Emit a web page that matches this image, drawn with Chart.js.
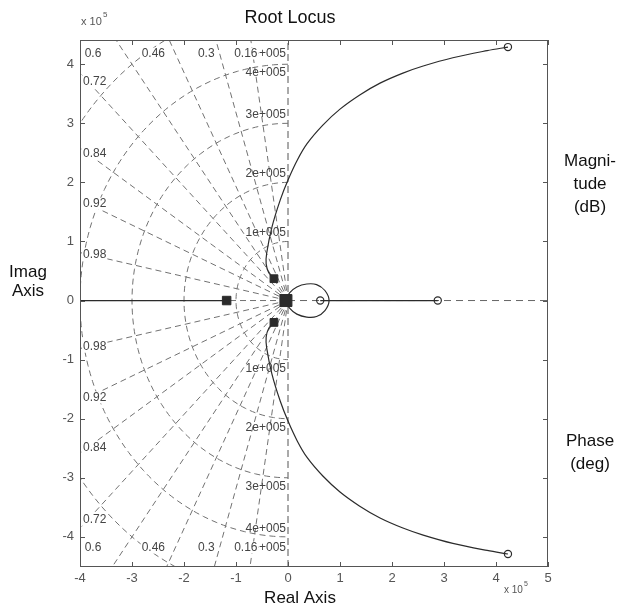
<!DOCTYPE html>
<html><head><meta charset="utf-8">
<script src="https://cdn.jsdelivr.net/npm/chart.js@4/dist/chart.umd.min.js"></script>
<style>html,body{margin:0;padding:0;background:#fff;}#wrap{width:628px;height:611px;position:relative;}</style>
</head><body><div id="wrap"><canvas id="c" width="628" height="611"></canvas></div>
<script>
// ---- data (units of 1e5) ----
const xTicks = [-4,-3,-2,-1,0,1,2,3,4,5];
const yTicks = [-4,-3,-2,-1,0,1,2,3,4];
const xRange = [-4, 5];
const yRange = [-4.51, 4.41];
const zetaValues = [0.16,0.3,0.46,0.6,0.72,0.84,0.92,0.98];
const zetaLabels = ['0.16','0.3','0.46','0.6','0.72','0.84','0.92','0.98'];
const wnValues = [1,2,3,4,5];
const wnLabels = ['1e+005','2e+005','3e+005','4e+005','5e+005'];
const poleX = [-1.18,-0.27,-0.27,-0.04];
const poleY = [0,0.37,-0.37,0];
const zeroX = [0.62,2.88,4.23,4.23];
const zeroY = [0,0,4.29,-4.29];
const upperX = [-0.27,-0.37,-0.42,-0.41,-0.31,-0.15,0.0,0.18,0.37,0.67,1.0,1.38,1.77,2.21,2.6,3.17,3.83,4.23];
const upperY = [0.37,0.47,0.62,0.8,1.24,1.7,2.04,2.38,2.66,2.97,3.24,3.48,3.68,3.85,3.97,4.11,4.23,4.29];
const lowerX = [-0.27,-0.37,-0.42,-0.41,-0.31,-0.15,0.0,0.18,0.37,0.67,1.0,1.38,1.77,2.21,2.6,3.17,3.83,4.23];
const lowerY = [-0.37,-0.47,-0.62,-0.8,-1.24,-1.7,-2.04,-2.38,-2.66,-2.97,-3.24,-3.48,-3.68,-3.85,-3.97,-4.11,-4.23,-4.29];
const loopX = [-0.04,0.03,0.17,0.36,0.55,0.71,0.79,0.71,0.55,0.36,0.17,0.03,-0.04];
const loopY = [0,0.13,0.23,0.28,0.27,0.17,0,-0.17,-0.27,-0.28,-0.23,-0.13,0];
const realBranchLeftX = [-4,-1.18];
const realBranchRightX = [0.62,2.88];

// ---- build datasets ----
const GRID = '#727272', INK = '#2b2b2b';
const pts = (xs, ys) => xs.map((x,i)=>({x, y: ys[i]}));
const datasets = [];
const gridStyle = {showLine:true, pointRadius:0, borderColor:GRID, borderWidth:1, borderDash:[6,4], tension:0, order:5};
zetaValues.forEach(z => {
  const s = Math.sqrt(1-z*z), R = 9;
  datasets.push({...gridStyle, data:[{x:0,y:0},{x:-z*R,y:s*R}]});
  datasets.push({...gridStyle, data:[{x:0,y:0},{x:-z*R,y:-s*R}]});
});
wnValues.forEach(w => {
  const d = [];
  for (let a = 90; a <= 270; a += 2) { const t = a*Math.PI/180; d.push({x:w*Math.cos(t), y:w*Math.sin(t)}); }
  datasets.push({...gridStyle, data:d});
});
datasets.push({...gridStyle, borderColor:'#555', borderDash:[7,4], data:[{x:0,y:yRange[0]},{x:0,y:yRange[1]}]});
datasets.push({...gridStyle, data:[{x:xRange[0],y:0},{x:0,y:0}]});
datasets.push({...gridStyle, borderColor:'#666', borderDash:[7,5], data:[{x:0,y:0},{x:xRange[1],y:0}]});

const lineStyle = {showLine:true, pointRadius:0, borderColor:INK, borderWidth:1.2, order:2};
datasets.push({...lineStyle, tension:0.35, data:pts(upperX, upperY)});
datasets.push({...lineStyle, tension:0.35, data:pts(lowerX, lowerY)});
datasets.push({...lineStyle, tension:0.4, data:pts(loopX, loopY)});
datasets.push({...lineStyle, tension:0, data:pts(realBranchLeftX,[0,0])});
datasets.push({...lineStyle, tension:0, data:pts(realBranchRightX,[0,0])});

datasets.push({showLine:false, data:pts(poleX,poleY), pointStyle:'rect', pointRadius:[6,5.5,5.5,8.5],
  backgroundColor:INK, borderColor:INK, borderWidth:1, order:0});
datasets.push({showLine:false, data:pts(zeroX,zeroY), pointStyle:'circle', pointRadius:3.6,
  backgroundColor:'rgba(255,255,255,0)', borderColor:INK, borderWidth:1.2, order:0});

const FONT = '"Liberation Sans", Arial, sans-serif';

const decor = {
  id:'decor',
  afterDatasetsDraw(chart){
    const ctx = chart.ctx, xs = chart.scales.x, ys = chart.scales.y, a = chart.chartArea;
    ctx.save();
    // natural-frequency labels
    ctx.font = '12px ' + FONT; ctx.fillStyle = '#444'; ctx.textAlign = 'right'; ctx.textBaseline = 'middle';
    const rowY = yRange[1] - 0.23;
    const x0 = xs.getPixelForValue(0) - 2;
    const gap = 19;
    let prevU = -1e9, prevL = 1e9;
    for (let i = wnValues.length-1; i >= 0; i--) {
      const w = wnValues[i];
      let cu = Math.max(ys.getPixelForValue(w) - 9, ys.getPixelForValue(rowY), prevU + gap);
      let cl = Math.min(ys.getPixelForValue(-w) + 9, ys.getPixelForValue(-rowY), prevL - gap);
      prevU = cu; prevL = cl;
      ctx.fillText(wnLabels[i], x0, cu);
      ctx.fillText(wnLabels[i], x0, cl);
    }
    // damping labels
    zetaValues.forEach((z,i) => {
      const s = Math.sqrt(1-z*z);
      const xl = xRange[0] + 0.15;
      const yl = -xl * s / z;
      const txt = zetaLabels[i];
      const tw = ctx.measureText(txt).width;
      let cx, cyU, cyL;
      if (yl <= rowY) {
        cx = a.left + 3 + tw/2; cyU = ys.getPixelForValue(yl); cyL = ys.getPixelForValue(-yl);
      } else {
        cx = xs.getPixelForValue(-z/s*wnValues[wnValues.length-1]);
        cyU = ys.getPixelForValue(rowY); cyL = ys.getPixelForValue(-rowY);
      }
      [cyU, cyL].forEach(cy => {
        ctx.fillStyle = '#fff'; ctx.fillRect(cx - tw/2 - 1, cy - 6, tw + 2, 12);
        ctx.fillStyle = '#444'; ctx.textAlign = 'center'; ctx.fillText(txt, cx, cy);
      });
    });
    // frame and inward ticks
    ctx.strokeStyle = '#555'; ctx.lineWidth = 1;
    ctx.strokeRect(Math.round(a.left)+0.5, Math.round(a.top)+0.5, Math.round(a.right-a.left)-1, Math.round(a.bottom-a.top)-1);
    ctx.beginPath();
    yTicks.forEach(v => { const p = Math.round(ys.getPixelForValue(v))+0.5;
      ctx.moveTo(a.left, p); ctx.lineTo(a.left+5, p); ctx.moveTo(a.right, p); ctx.lineTo(a.right-5, p); });
    xTicks.forEach(v => { const p = Math.round(xs.getPixelForValue(v))+0.5;
      ctx.moveTo(p, a.top); ctx.lineTo(p, a.top+5); ctx.moveTo(p, a.bottom); ctx.lineTo(p, a.bottom-5); });
    ctx.stroke();
    // texts
    ctx.fillStyle = '#111'; ctx.textAlign = 'center'; ctx.textBaseline = 'middle';
    ctx.font = '18px ' + FONT;
    ctx.fillText('Root Locus', 290, 18);
    ctx.font = '17px ' + FONT;
    ctx.fillText('Real Axis', 300, 598);
    ctx.fillText('Imag', 28, 272); ctx.fillText('Axis', 28, 291);
    ctx.fillText('Magni-', 590, 161); ctx.fillText('tude', 590, 184); ctx.fillText('(dB)', 590, 207);
    ctx.fillText('Phase', 590, 441); ctx.fillText('(deg)', 590, 464);
    // exponent labels
    ctx.fillStyle = '#555'; ctx.textAlign = 'left'; ctx.textBaseline = 'alphabetic';
    ctx.font = '11px ' + FONT; ctx.fillText('x 10', 81, 25);
    ctx.font = '8px ' + FONT; ctx.fillText('5', 103, 17);
    ctx.font = '10px ' + FONT; ctx.fillText('x 10', 504, 593);
    ctx.font = '7px ' + FONT; ctx.fillText('5', 524, 586);
    ctx.restore();
  }
};

new Chart(document.getElementById('c'), {
  type:'scatter',
  data:{datasets},
  options:{
    responsive:false, animation:false, devicePixelRatio:1,
    layout:{padding:{left:0, right:80, top:40, bottom:0}},
    plugins:{legend:{display:false}, tooltip:{enabled:false}, title:{display:false}},
    events:[],
    scales:{
      x:{type:'linear', min:xRange[0], max:xRange[1],
        afterBuildTicks:s=>{s.ticks = xTicks.map(v=>({value:v}));},
        afterFit:s=>{s.height = 44;},
        grid:{display:false, drawTicks:false}, border:{display:false},
        ticks:{color:'#555', font:{size:13, family:FONT}, padding:4, maxRotation:0, autoSkip:false, callback:v=>String(v)}},
      y:{type:'linear', min:yRange[0], max:yRange[1],
        afterBuildTicks:s=>{s.ticks = yTicks.map(v=>({value:v}));},
        afterFit:s=>{s.width = 80;},
        grid:{display:false, drawTicks:false}, border:{display:false},
        ticks:{color:'#555', font:{size:13, family:FONT}, padding:6, autoSkip:false, callback:v=>String(v)}}
    }
  },
  plugins:[decor]
});
</script></body></html>
